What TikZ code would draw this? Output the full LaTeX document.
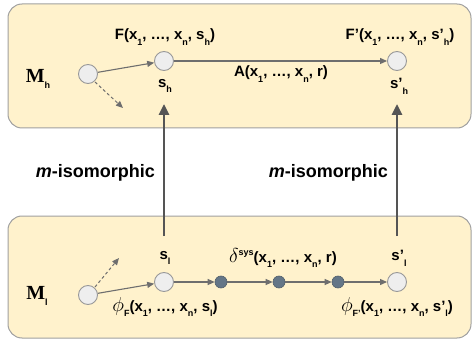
\documentclass[tikz,border=0pt]{standalone}
\usepackage{graphicx}
\usepackage{fontspec}
\setmainfont{Liberation Sans}
\newfontfamily\serifM{Liberation Serif}
\usetikzlibrary{arrows.meta}
\definecolor{boxfill}{HTML}{FFF2CC}
\definecolor{boxline}{HTML}{A0A0A0}
\definecolor{circfill}{HTML}{EEEEEE}
\definecolor{circline}{HTML}{999999}
\definecolor{darkfill}{HTML}{647687}
\definecolor{darkline}{HTML}{4F5E6B}
\definecolor{thinarr}{HTML}{6E6E6E}
\definecolor{thickarr}{HTML}{555555}
\newcommand\sbx[1]{\raisebox{-0.38em}{\fontsize{9}{9}\selectfont #1}}
\newcommand\spx[1]{\raisebox{0.45em}{\fontsize{9}{9}\selectfont #1}}
\newcommand\mathsym[1]{\scalebox{1.4}{$#1$}}
\begin{document}
\begin{tikzpicture}[x=1pt,y=-1pt,
  lbl/.style={font=\fontsize{15}{15}\selectfont\bfseries, inner sep=0pt},
  isolbl/.style={font=\fontsize{18}{18}\selectfont\bfseries, inner sep=0pt, anchor=east},
  model/.style={rounded corners=14pt, draw=boxline, fill=boxfill, line width=1pt},
  state/.style={circle, draw=circline, fill=circfill, line width=0.9pt, minimum size=19pt, inner sep=0pt},
  mid/.style={circle, draw=darkline, fill=darkfill, line width=0.6pt, minimum size=12pt, inner sep=0pt},
  thin/.style={draw=thinarr, line width=1.1pt, -{Triangle[length=7pt,width=6pt]}},
  dashedarr/.style={draw=thinarr, line width=1pt, dash pattern=on 3pt off 2.5pt, -{Triangle[length=7pt,width=6pt]}},
  thick/.style={draw=thickarr, line width=2.6pt, -{Triangle[length=11pt,width=10pt]}}
]
\useasboundingbox (0,0) rectangle (474,342);
% boxes
\draw[model] (8,4) rectangle (471,128);
\draw[model] (8,216) rectangle (471,338);
% top nodes
\node[state] (h0) at (88,74) {};
\node[state] (sh) at (164,61) {};
\node[state] (shp) at (397,61) {};
\node[lbl] (Mh) at (38,79) {{\serifM\fontsize{20}{20}\selectfont M}\sbx{h}};
\node[lbl] (Fh) at (165,37) {F(x\sbx{1}, \dots, x\sbx{n}, s\sbx{h})};
\node[lbl] (Fph) at (400,37) {F’(x\sbx{1}, \dots, x\sbx{n}, s’\sbx{h})};
\node[lbl] (Ah) at (281,74) {A(x\sbx{1}, \dots, x\sbx{n}, r)};
\node[lbl] (shl) at (165,86) {s\sbx{h}};
\node[lbl] (shpl) at (399,86) {s’\sbx{h}};
\coordinate (dh0) at (95,82);
\coordinate (dh1) at (123,108);
\draw[thin] (h0) -- (sh);
\draw[thin] (sh) -- (shp);
\draw[dashedarr] (dh0) -- (dh1);
% bottom nodes
\node[state] (l0) at (88,295) {};
\node[state] (sl) at (164,282) {};
\node[mid] (m1) at (221,282) {};
\node[mid] (m2) at (279,282) {};
\node[mid] (m3) at (338,282) {};
\node[state] (slp) at (397,282) {};
\node[lbl] (Ml) at (37,296) {{\serifM\fontsize{20}{20}\selectfont M}\sbx{l}};
\node[lbl] (sll) at (165,258) {s\sbx{l}};
\node[lbl] (slpl) at (399,258) {s’\sbx{l}};
\node[lbl] (dl) at (283,258) {\mathsym{\delta}\spx{sys}(x\sbx{1}, \dots, x\sbx{n}, r)};
\node[lbl] (pf) at (165,307) {\mathsym{\phi}\sbx{F}(x\sbx{1}, \dots, x\sbx{n}, s\sbx{l})};
\node[lbl] (pfp) at (397,307) {\mathsym{\phi}\sbx{F’}(x\sbx{1}, \dots, x\sbx{n}, s’\sbx{l})};
\coordinate (dl0) at (95,287);
\coordinate (dl1) at (119,258);
\draw[thin] (l0) -- (sl);
\draw[thin] (sl) -- (m1);
\draw[thin] (m1) -- (m2);
\draw[thin] (m2) -- (m3);
\draw[thin] (m3) -- (slp);
\draw[dashedarr] (dl0) -- (dl1);
% vertical arrows
\coordinate (va0) at (164,236);
\coordinate (va1) at (164,104);
\coordinate (vb0) at (397,236);
\coordinate (vb1) at (397,104);
\draw[thick] (va0) -- (va1);
\draw[thick] (vb0) -- (vb1);
\node[isolbl] (iso1) at (155,173) {\textit{m}-isomorphic};
\node[isolbl] (iso2) at (388,173) {\textit{m}-isomorphic};
\end{tikzpicture}
\end{document}
